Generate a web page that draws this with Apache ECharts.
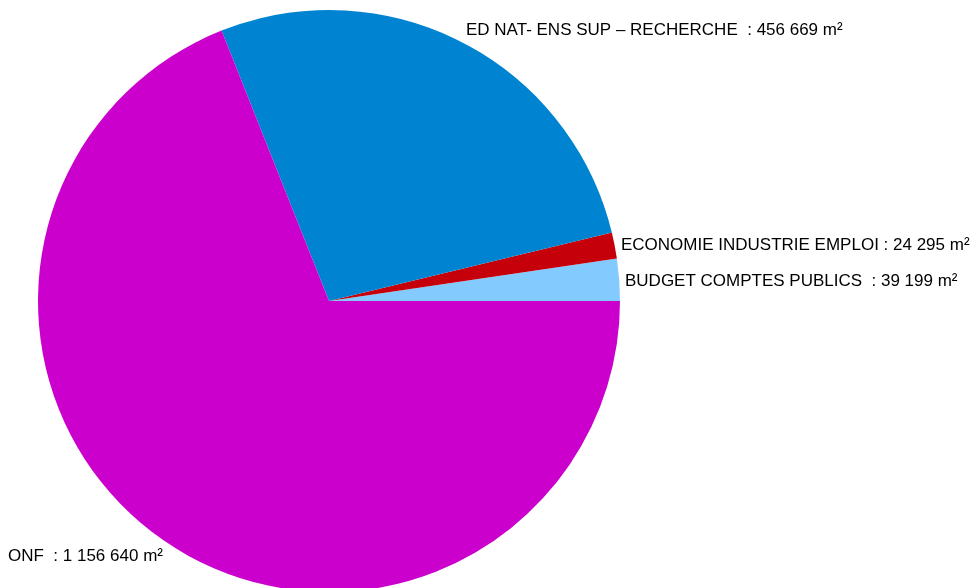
<!DOCTYPE html>
<html>
<head>
<meta charset="utf-8">
<script src="https://cdn.jsdelivr.net/npm/echarts@6/dist/echarts.min.js"></script>
<style>html,body{margin:0;padding:0;background:#fff;}#c{width:970px;height:588px;}</style>
</head>
<body>
<div id="c"></div>
<script>
const categories = ['BUDGET COMPTES PUBLICS ', 'ECONOMIE INDUSTRIE EMPLOI', 'ED NAT- ENS SUP – RECHERCHE ', 'ONF '];
const values = [39199, 24295, 456669, 1156640];
const colors = ['#83caff', '#c5000b', '#0084d1', '#cc00cc'];
const labelPos = [[625, 281], [621, 245], [466, 30], [8, 556]];

function fmt(v) {
  return String(v).replace(/\B(?=(\d{3})+(?!\d))/g, ' ');
}

const chart = echarts.init(document.getElementById('c'));
chart.setOption({
  animation: false,
  series: [{
    type: 'pie',
    center: [329, 301],
    radius: 291,
    startAngle: 0,
    clockwise: false,
    avoidLabelOverlap: false,
    data: categories.map((n, i) => ({ name: n, value: values[i], itemStyle: { color: colors[i] } })),
    label: {
      show: true,
      position: 'outside',
      color: '#000',
      fontFamily: 'Liberation Sans',
      fontSize: 17,
      formatter: p => p.name + ' : ' + fmt(p.value) + ' m²'
    },
    labelLine: { show: false },
    emphasis: { disabled: true }
  }]
});
chart.setOption({
  series: [{
    labelLayout: function (params) {
      const p = labelPos[params.dataIndex];
      return { x: p[0], y: p[1], align: 'left', verticalAlign: 'middle' };
    }
  }]
});
</script>
</body>
</html>
